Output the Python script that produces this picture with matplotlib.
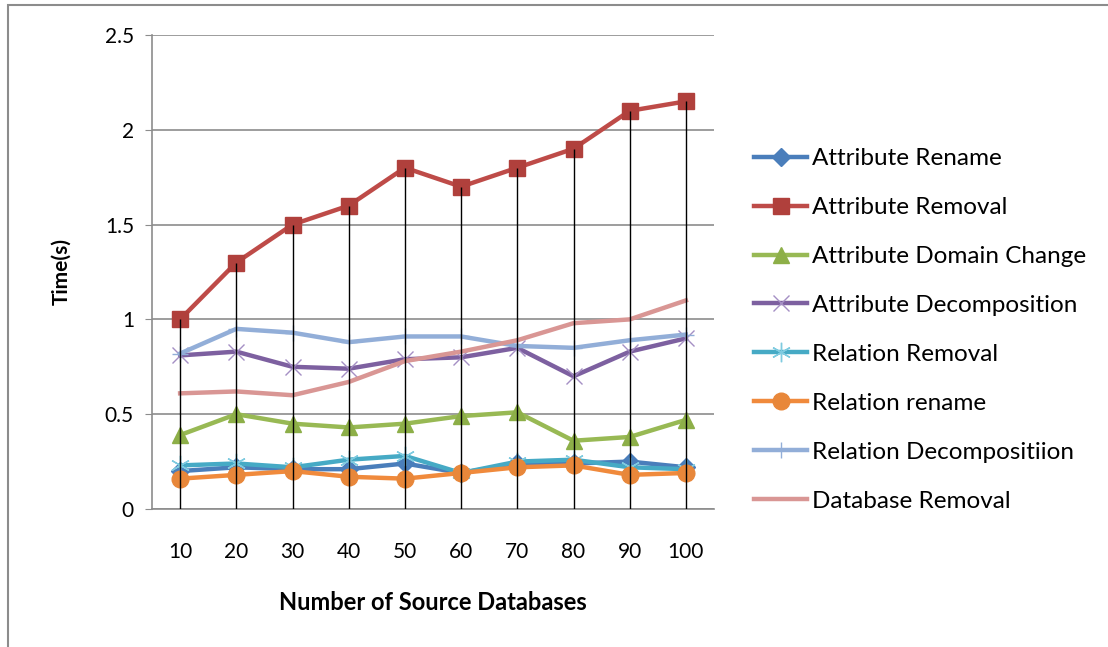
import numpy as np
import matplotlib.pyplot as plt
from matplotlib.patches import Rectangle

plt.rcParams['font.family'] = ['Lato', 'DejaVu Sans']

sources = ['10', '20', '30', '40', '50', '60', '70', '80', '90', '100']
attr_rename = [0.20, 0.22, 0.21, 0.21, 0.24, 0.19, 0.24, 0.24, 0.25, 0.22]
attr_removal = [1.0, 1.3, 1.5, 1.6, 1.8, 1.7, 1.8, 1.9, 2.1, 2.15]
attr_domain = [0.39, 0.50, 0.45, 0.43, 0.45, 0.49, 0.51, 0.36, 0.38, 0.47]
attr_decomp = [0.81, 0.83, 0.75, 0.74, 0.79, 0.80, 0.85, 0.70, 0.83, 0.90]
rel_removal = [0.23, 0.24, 0.22, 0.26, 0.28, 0.19, 0.25, 0.26, 0.22, 0.21]
rel_rename = [0.16, 0.18, 0.20, 0.17, 0.16, 0.19, 0.22, 0.23, 0.18, 0.19]
rel_decomp = [0.82, 0.95, 0.93, 0.88, 0.91, 0.91, 0.86, 0.85, 0.89, 0.92]
db_removal = [0.61, 0.62, 0.60, 0.67, 0.78, 0.83, 0.89, 0.98, 1.00, 1.10]

series = [
    ('Attribute Rename', attr_rename, '#4A7EBB', 'D', 9, '#4A7EBB'),
    ('Attribute Removal', attr_removal, '#BE4B48', 's', 12, '#B0403C'),
    ('Attribute Domain Change', attr_domain, '#98B954', '^', 12, '#8DAF48'),
    ('Attribute Decomposition', attr_decomp, '#7D60A0', 'x', 12, '#A58FC4'),
    ('Relation Removal', rel_removal, '#46AAC5', (6, 2, 0), 14, '#7FCBE0'),
    ('Relation rename', rel_rename, '#F08A3C', 'o', 12, '#E8873A'),
    ('Relation Decompositiion', rel_decomp, '#92AED8', '+', 12, '#92AED8'),
    ('Database Removal', db_removal, '#D99694', None, 0, '#D99694'),
]

fig = plt.figure(figsize=(11.08, 6.47), dpi=100)
ax = fig.add_axes([0.1372, 0.2133, 0.5072, 0.7326])
x = np.arange(len(sources))

for name, vals, col, mk, ms, mcol in series:
    ax.plot(x, vals, color=col, lw=3.2, marker=mk, markersize=ms,
            markerfacecolor=mcol, markeredgecolor=mcol, markeredgewidth=1.0,
            label=name, zorder=3)

# drop lines
tops = np.max(np.array([s[1] for s in series]), axis=0)
ax.vlines(x, 0, tops, color='black', lw=1.0, zorder=4)

ax.set_xlim(-0.5, len(sources) - 0.5)
ax.set_ylim(0, 2.5)
ax.set_yticks(np.arange(0, 2.51, 0.5))
ax.set_yticklabels(['0', '0.5', '1', '1.5', '2', '2.5'])
ax.set_xticks(x)
ax.set_xticklabels(sources)
ax.grid(axis='y', color='#8C8C8C', lw=1.2)
ax.set_axisbelow(True)
for s in ['top', 'right']:
    ax.spines[s].set_visible(False)
for s in ['left', 'bottom']:
    ax.spines[s].set_color('#8C8C8C')
    ax.spines[s].set_linewidth(1.2)
ax.tick_params(axis='y', length=5, color='#8C8C8C', labelsize=15, pad=8)
ax.tick_params(axis='x', length=0, labelsize=15, pad=24)

ax.set_ylabel('Time(s)', fontsize=15, fontweight='bold', labelpad=24)
ax.set_xlabel('Number of Source Databases', fontsize=17, fontweight='bold', labelpad=21)

fig.legend(*ax.get_legend_handles_labels(), loc='center left',
           bbox_to_anchor=(754 / 1108, 0.49), frameon=False,
           fontsize=17.5, handlelength=2.2, handletextpad=0.2,
           labelspacing=1.15, borderpad=0, borderaxespad=0)

fig.patches.append(Rectangle((8 / 1108, -0.1), 1.2, 1.1 - 5 / 647,
                             transform=fig.transFigure, fill=False,
                             edgecolor='#8C8C8C', lw=1.5))

plt.savefig('out.png', dpi=100)
